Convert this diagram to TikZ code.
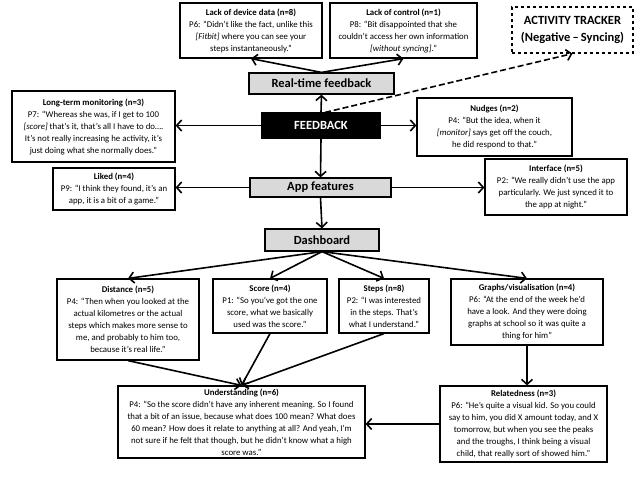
\documentclass[tikz,border=0pt]{standalone}
\usepackage{fontspec}
\setmainfont{Carlito}
\usetikzlibrary{positioning,arrows.meta}
\definecolor{headgray}{RGB}{217,217,217}

\begin{document}
\begin{tikzpicture}[x=1pt,y=-1pt]
  \tikzset{quote/.style = {draw, line width=1.2pt, align=center, inner sep=0pt,
                           font=\fontsize{8.8}{12}\selectfont}}
  \tikzset{head/.style = {draw, fill=headgray, line width=1.2pt, inner sep=0pt,
                          font=\fontsize{12.5}{14}\selectfont\bfseries}}
  \tikzset{arr/.style = {-{Straight Barb[length=5pt,width=11pt]}, line width=1.6pt}}

  \useasboundingbox (0,0) rectangle (640,480);

  \node[quote, minimum width=142, minimum height=55] (devdata) at (251,30.5)
    {\textbf{Lack of device data (n=8)}\\P6: “Didn’t like the fact, unlike this\\\textit{[Fitbit]} where you can see your\\steps instantaneously.”};
  \node[quote, minimum width=147, minimum height=55] (control) at (403.5,30.5)
    {\textbf{Lack of control (n=1)}\\P8: “Bit disappointed that she\\couldn’t access her own information\\\textit{[without syncing]}.”};
  \node[draw, dashed, line width=1.2pt, minimum width=121, minimum height=46, align=center,
        font=\fontsize{12.5}{17}\selectfont\bfseries] (tracker) at (572.5,30)
    {ACTIVITY TRACKER\\(Negative\,–\,Syncing)};

  \node[head, minimum width=145, minimum height=21] (rt) at (321.5,83.5) {Real-time feedback};
  \node[head, fill=black, text=white, minimum width=118, minimum height=25] (fb) at (321,125.5) {FEEDBACK};
  \node[head, minimum width=141, minimum height=19] (app) at (320.5,187.5) {App features};
  \node[head, minimum width=114, minimum height=22] (dash) at (322,240) {Dashboard};

  \node[quote, minimum width=163, minimum height=71] (lt) at (93.5,126.5)
    {\textbf{Long-term monitoring (n=3)}\\P7: “Whereas she was, if I get to 100\\\textit{[score]} that’s it, that’s all I have to do….\\It’s not really increasing he activity, it’s\\just doing what she normally does.”};
  \node[quote, minimum width=155, minimum height=58] (nudge) at (494.5,127)
    {\textbf{Nudges (n=2)}\\P4: “But the idea, when it\\\textit{[monitor]} says get off the couch,\\he did respond to that.”};
  \node[quote, minimum width=122, minimum height=42] (liked) at (114,189)
    {\textbf{Liked (n=4)}\\P9: “I think they found, it’s an\\app, it is a bit of a game.”};
  \node[quote, minimum width=142, minimum height=56] (intf) at (556,187)
    {\textbf{Interface (n=5)}\\P2: “We really didn’t use the app\\particularly. We just synced it to\\the app at night.”};

  \node[quote, minimum width=142, minimum height=81] (dist) at (128,319.5)
    {\textbf{Distance (n=5)}\\P4: “Then when you looked at the\\actual kilometres or the actual\\steps which makes more sense to\\me, and probably to him too,\\because it’s real life.”};
  \node[quote, minimum width=114, minimum height=54] (score) at (270,306)
    {\textbf{Score (n=4)}\\P1: “So you’ve got the one\\score, what we basically\\used was the score.”};
  \node[quote, minimum width=90, minimum height=54] (steps) at (384,306)
    {\textbf{Steps (n=8)}\\P2: “I was interested\\in the steps. That’s\\what I understand.”};
  \node[quote, minimum width=152, minimum height=66] (graph) at (527,312)
    {\textbf{Graphs/visualisation (n=4)}\\P6: “At the end of the week he’d\\have a look. And they were doing\\graphs at school so it was quite a\\thing for him”};
  \node[quote, minimum width=247, minimum height=72] (und) at (241.5,422)
    {\textbf{Understanding (n=6)}\\P4: “So the score didn’t have any inherent meaning. So I found\\that a bit of an issue, because what does 100 mean? What does\\60 mean? How does it relate to anything at all? And yeah, I’m\\not sure if he felt that though, but he didn’t know what a high\\score was.”};
  \node[quote, minimum width=167, minimum height=76] (rel) at (523.5,424)
    {\textbf{Relatedness (n=3)}\\P6: “He’s quite a visual kid. So you could\\say to him, you did X amount today, and X\\tomorrow, but when you see the peaks\\and the troughs, I think being a visual\\child, that really sort of showed him.”};

  \draw[arr] (rt.north) -- (devdata.south);
  \draw[arr] (rt.north) -- (control.south);
  \draw[arr] (fb.north) -- (rt.south);
  \draw[arr, dash pattern=on 6pt off 3pt] ([xshift=4]fb.north) -- (tracker.south);
  \draw[arr] (fb.west) -- (fb.west -| lt.east);
  \draw[arr] (fb.east) -- (fb.east -| nudge.west);
  \draw[arr] (fb.south) -- (app.north);
  \draw[arr] (app.west) -- (app.west -| liked.east);
  \draw[arr] (app.east) -- (app.east -| intf.west);
  \draw[arr] (app.south) -- (dash.north);
  \draw[arr] (dash.south) -- (dist.north);
  \draw[arr] (dash.south) -- (score.north);
  \draw[arr] (dash.south) -- (steps.north);
  \draw[arr] (dash.south) -- (graph.north);
  \draw[arr] (dist.south) -- (und.north);
  \draw[arr] (score.south) -- (und.north);
  \draw[arr] (steps.south) -- (und.north);
  \draw[arr] (graph.south) -- (graph.south |- rel.north);
  \draw[arr] (rel.west) -- (rel.west -| und.east);
\end{tikzpicture}
\end{document}
